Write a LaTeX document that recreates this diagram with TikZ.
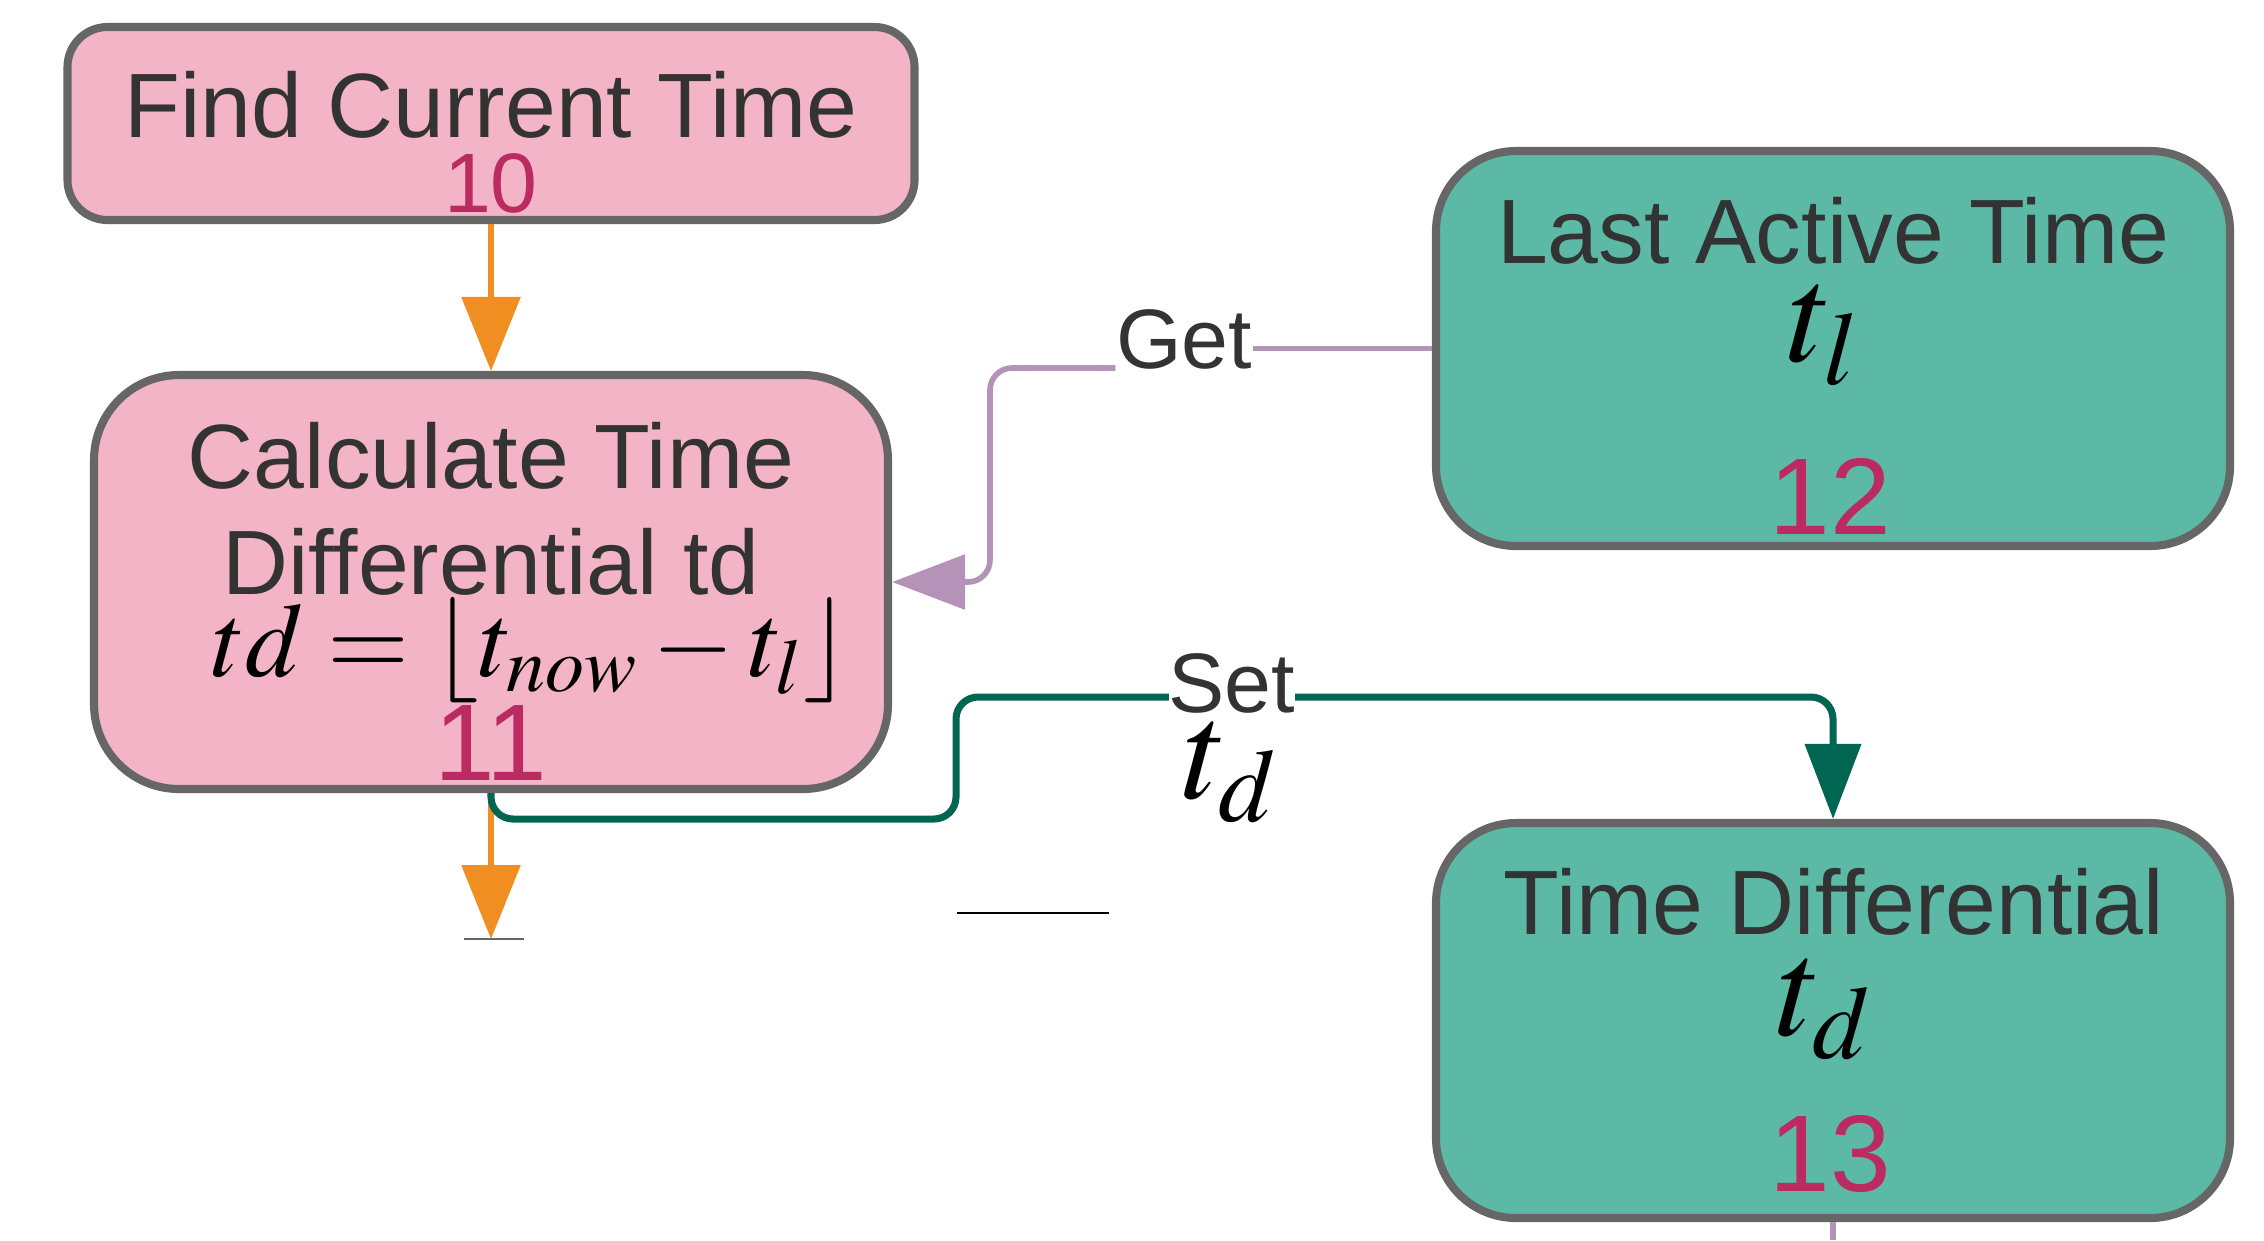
\documentclass[tikz,border=0pt]{standalone}
\usepackage{mathptmx}
\usepackage{fontspec}
\setmainfont{Liberation Sans}
\usetikzlibrary{arrows.meta}
\definecolor{pinkfill}{HTML}{F4B4C7}
\definecolor{tealfill}{HTML}{5BB9A6}
\definecolor{boxgray}{HTML}{666666}
\definecolor{txtgray}{HTML}{333333}
\definecolor{nummag}{HTML}{BC2A62}
\definecolor{flowor}{HTML}{F08E22}
\definecolor{setgreen}{HTML}{006651}
\definecolor{getpurple}{HTML}{B592B7}
\begin{document}
\begin{tikzpicture}[
    box/.style={draw=boxgray,line width=2.3pt,inner sep=0pt,minimum width=7.94cm,minimum height=3.95cm,rounded corners=0.8cm},
    title/.style={anchor=base,inner sep=0pt,text=txtgray,font=\fontsize{26}{30}\selectfont},
    lbl/.style={anchor=base,inner sep=0pt,text=txtgray,font=\fontsize{24}{28}\selectfont},
    num/.style={anchor=base,inner sep=0pt,text=nummag,font=\fontsize{31}{34}\selectfont},
    var/.style={anchor=base,inner sep=0pt,font=\fontsize{40}{44}\selectfont},
    flow/.style={flowor,line width=1.7pt,-{Triangle[length=7.4mm,width=5.8mm]}},
    setline/.style={setgreen,line width=2pt,rounded corners=0.22cm},
    getline/.style={getpurple,line width=1.6pt,rounded corners=0.22cm}
  ]
  \useasboundingbox (0,0) rectangle (22.64,-12.40);

  % process boxes
  \node[box,fill=pinkfill,minimum width=8.47cm,minimum height=1.93cm,rounded corners=0.4cm] (find) at (4.91,-1.235) {};
  \node[title] (findtxt) at (4.91,-1.37) {Find Current Time};
  \node[num,font=\fontsize{24}{28}\selectfont] (findnum) at (4.91,-2.12) {10};

  \node[box,fill=pinkfill,minimum height=4.14cm,rounded corners=0.85cm] (calc) at (4.91,-5.82) {};
  \node[title] (calctxta) at (4.91,-4.88) {Calculate Time};
  \node[title] (calctxtb) at (4.91,-5.94) {Differential td};
  \node[anchor=base,inner sep=0pt,font=\fontsize{30}{34}\selectfont] (calcform) at (5.31,-6.76) {$td=\lfloor t_{now}-t_l\rfloor$};
  \node[num] (calcnum) at (4.91,-7.80) {11};

  % data boxes
  \node[box,fill=tealfill] (last) at (18.33,-3.485) {};
  \node[title] (lasttxt) at (18.33,-2.63) {Last Active Time};
  \node[var] (lastvar) at (18.24,-3.61) {$t_l$};
  \node[num] (lastnum) at (18.30,-5.34) {12};

  \node[box,fill=tealfill] (diff) at (18.33,-10.205) {};
  \node[title] (difftxt) at (18.34,-9.34) {Time Differential};
  \node[var] (diffvar) at (18.24,-10.35) {$t_d$};
  \node[num] (diffnum) at (18.30,-11.91) {13};

  \coordinate (out) at (4.91,-9.39);
  \coordinate (bot) at (18.33,-12.40);

  % control flow
  \draw[flow] (find.south) -- (calc.north);
  \draw[flow] (calc.south) -- (out);
  \draw[boxgray,line width=0.6pt] (4.64,-9.39) -- (5.24,-9.39);
  \draw[black,line width=0.8pt] (9.57,-9.13) -- (11.09,-9.13);

  % get
  \node[lbl] (get) at (11.84,-3.68) {Get};
  \draw[getline] (last.west) -- (last.west -| get.east);
  \draw[getline,-{Triangle[length=7.3mm,width=5.4mm]}] (get.base west) -| (9.90,-5.82) -- (calc.east);
  \draw[getline] (diff.south) -- (bot);

  % set
  \draw[setline,-{Triangle[length=7.5mm,width=5.5mm]}] (calc.south) -- (4.91,-8.19) -| (9.56,-6.97) -| (diff.north);
  \node[lbl,fill=white] (set) at (12.32,-7.12) {Set};
  \node[var] (setvar) at (12.30,-7.98) {$t_d$};
\end{tikzpicture}
\end{document}
